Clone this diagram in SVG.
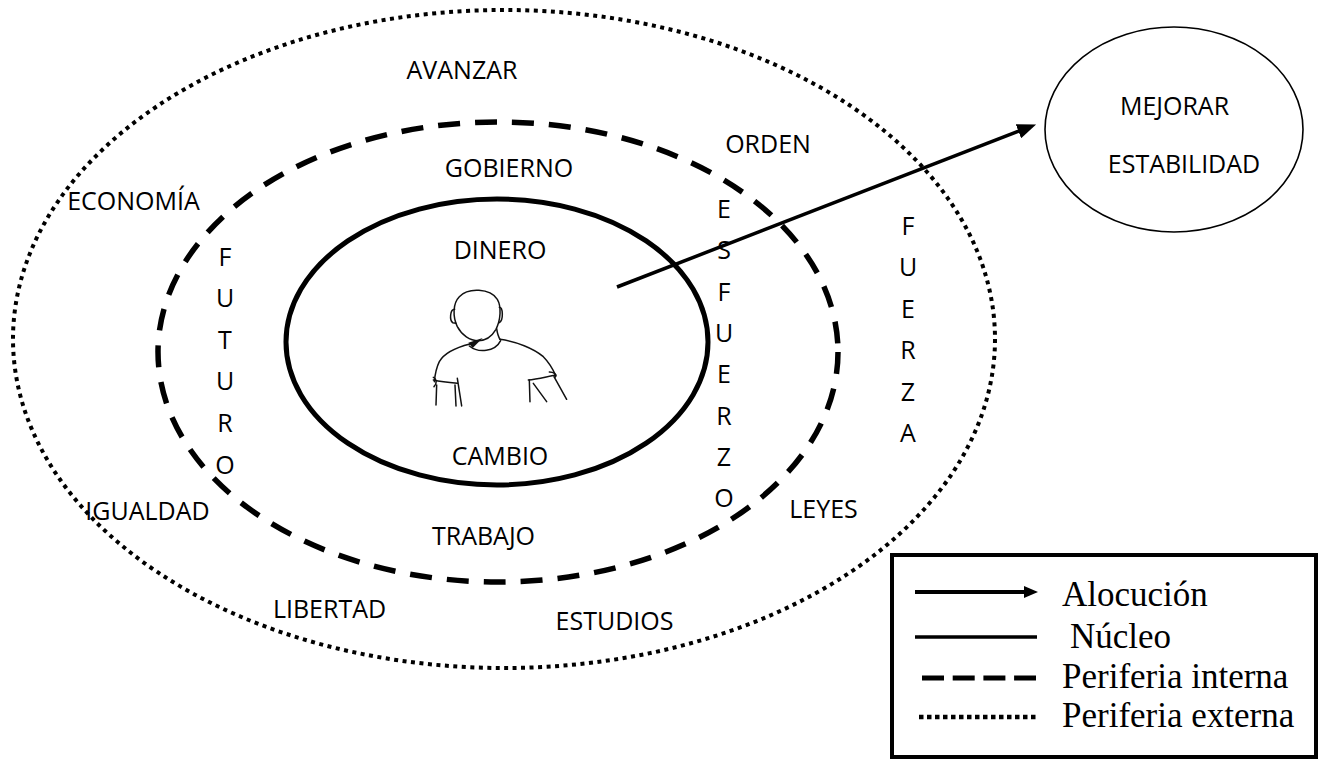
<svg xmlns="http://www.w3.org/2000/svg" width="1319" height="759" viewBox="0 0 1319 759">
  <style>
    .lbl { font-family: "Open Sans", "Noto Sans", "Liberation Sans", sans-serif; font-size: 25px; fill: #000; text-anchor: middle; }
    .leg { font-family: "Liberation Serif", "Times New Roman", serif; font-size: 35px; fill: #000; }
    .ring { fill: none; stroke: #000; }
    .outer { stroke-width: 4; stroke-dasharray: 4 4.5; }
    .inner { stroke-width: 5.5; stroke-dasharray: 22 15; }
    .core { stroke-width: 5; }
    .sketch { fill: none; stroke: #111; stroke-width: 4.5; stroke-linecap: round; stroke-linejoin: round; }
  </style>
  <defs>
    <marker id="head" viewBox="0 0 19 15" refX="9" refY="7.5" markerWidth="19" markerHeight="15" markerUnits="userSpaceOnUse" orient="auto">
      <path d="M0,0 L19,7.5 L0,15 Z" fill="#000"/>
    </marker>
    <marker id="headSmall" viewBox="0 0 14 12" refX="6" refY="6" markerWidth="14" markerHeight="12" markerUnits="userSpaceOnUse" orient="auto">
      <path d="M0,0 L14,6 L0,12 Z" fill="#000"/>
    </marker>
  </defs>
  <rect width="1319" height="759" fill="#fff"/>

  <!-- outer periphery -->
  <g id="periferia-externa">
    <ellipse class="ring outer" cx="504" cy="339" rx="491" ry="329"/>
    <text class="lbl" x="462" y="79">AVANZAR</text>
    <text class="lbl" x="768" y="153">ORDEN</text>
    <text class="lbl" x="133.5" y="210">ECONOMÍA</text>
    <text class="lbl" x="147.5" y="520">IGUALDAD</text>
    <text class="lbl" x="329.5" y="618">LIBERTAD</text>
    <text class="lbl" x="614.5" y="630">ESTUDIOS</text>
    <text class="lbl" x="823.5" y="518">LEYES</text>
    <g id="fuerza">
      <text class="lbl" x="908" y="235">F</text>
      <text class="lbl" x="908" y="276.4">U</text>
      <text class="lbl" x="908" y="317.8">E</text>
      <text class="lbl" x="908" y="359.2">R</text>
      <text class="lbl" x="908" y="400.6">Z</text>
      <text class="lbl" x="908" y="442">A</text>
    </g>
  </g>

  <!-- inner periphery -->
  <g id="periferia-interna">
    <ellipse class="ring inner" cx="498" cy="352" rx="340" ry="230"/>
    <text class="lbl" x="509" y="177">GOBIERNO</text>
    <text class="lbl" x="483.5" y="545">TRABAJO</text>
    <g id="futuro">
      <text class="lbl" x="225" y="265.5">F</text>
      <text class="lbl" x="225" y="307.1">U</text>
      <text class="lbl" x="225" y="348.7">T</text>
      <text class="lbl" x="225" y="390.3">U</text>
      <text class="lbl" x="225" y="431.9">R</text>
      <text class="lbl" x="225" y="473.5">O</text>
    </g>
    <g id="esfuerzo">
      <text class="lbl" x="724" y="218">E</text>
      <text class="lbl" x="724" y="259.3">S</text>
      <text class="lbl" x="724" y="300.6">F</text>
      <text class="lbl" x="724" y="341.9">U</text>
      <text class="lbl" x="724" y="383.2">E</text>
      <text class="lbl" x="724" y="424.5">R</text>
      <text class="lbl" x="724" y="465.8">Z</text>
      <text class="lbl" x="724" y="507.1">O</text>
    </g>
  </g>

  <!-- core -->
  <g id="nucleo">
    <ellipse class="ring core" cx="497" cy="342" rx="211" ry="143"/>
    <text class="lbl" x="500" y="259">DINERO</text>
    <text class="lbl" x="500" y="465">CAMBIO</text>
    <!-- line sketch of a person, drawn at 3x and scaled down -->
    <g id="persona" transform="translate(400,270) scale(0.3333)">
      <path class="sketch" d="M172,170 C158,140 158,100 178,80 C205,52 270,55 292,88 C305,110 302,150 288,178 C275,200 255,212 235,212 C210,212 185,195 172,170 Z"/>
      <path class="sketch" d="M164,118 C150,118 148,150 158,158 L168,160"/>
      <path class="sketch" d="M298,112 C309,112 311,150 298,158"/>
      <path d="M205,218 L248,204 L218,234 Z" fill="#111"/>
      <path class="sketch" d="M290,176 C292,190 295,200 300,208"/>
      <path class="sketch" d="M208,228 C235,250 285,246 302,212"/>
      <path class="sketch" d="M210,222 C170,232 132,250 118,275 C108,295 105,315 103,335"/>
      <path class="sketch" d="M300,208 C350,215 400,235 430,260 C450,280 460,300 468,318"/>
      <path class="sketch" d="M100,330 C122,335 150,338 172,340"/>
      <path class="sketch" d="M100,322 C110,326 112,340 102,350"/>
      <path class="sketch" d="M110,345 L108,405 M172,325 L185,408 M165,345 L168,408"/>
      <path class="sketch" d="M385,330 C410,328 440,320 468,315"/>
      <path class="sketch" d="M448,306 C462,306 470,312 465,322"/>
      <path class="sketch" d="M388,330 L390,395 M400,340 L440,395 M462,320 L500,388"/>
    </g>
  </g>

  <!-- target node -->
  <g id="mejorar">
    <ellipse cx="1174" cy="129.5" rx="129" ry="102.5" fill="#fff" stroke="#000" stroke-width="1.6"/>
    <text class="lbl" x="1174.5" y="115">MEJORAR</text>
    <text class="lbl" x="1184" y="173">ESTABILIDAD</text>
  </g>

  <!-- connectors -->
  <g id="conectores">
    <line x1="617" y1="287" x2="1026.8" y2="128" stroke="#000" stroke-width="3.5" marker-end="url(#head)"/>
  </g>

  <!-- legend -->
  <g id="leyenda">
    <rect x="892" y="555" width="424" height="202" fill="#fff" stroke="#000" stroke-width="4"/>
    <line x1="915" y1="592" x2="1030" y2="592" stroke="#000" stroke-width="4" marker-end="url(#headSmall)"/>
    <line x1="915" y1="637" x2="1037" y2="637" stroke="#000" stroke-width="3.5"/>
    <line x1="922" y1="678" x2="1036" y2="678" stroke="#000" stroke-width="5" stroke-dasharray="22 8.7"/>
    <line x1="919" y1="717" x2="1036" y2="717" stroke="#000" stroke-width="4.5" stroke-dasharray="4.5 3.5"/>
    <text class="leg" x="1062" y="606">Alocución</text>
    <text class="leg" x="1070" y="648">Núcleo</text>
    <text class="leg" x="1062" y="688">Periferia interna</text>
    <text class="leg" x="1062" y="727">Periferia externa</text>
  </g>
</svg>
